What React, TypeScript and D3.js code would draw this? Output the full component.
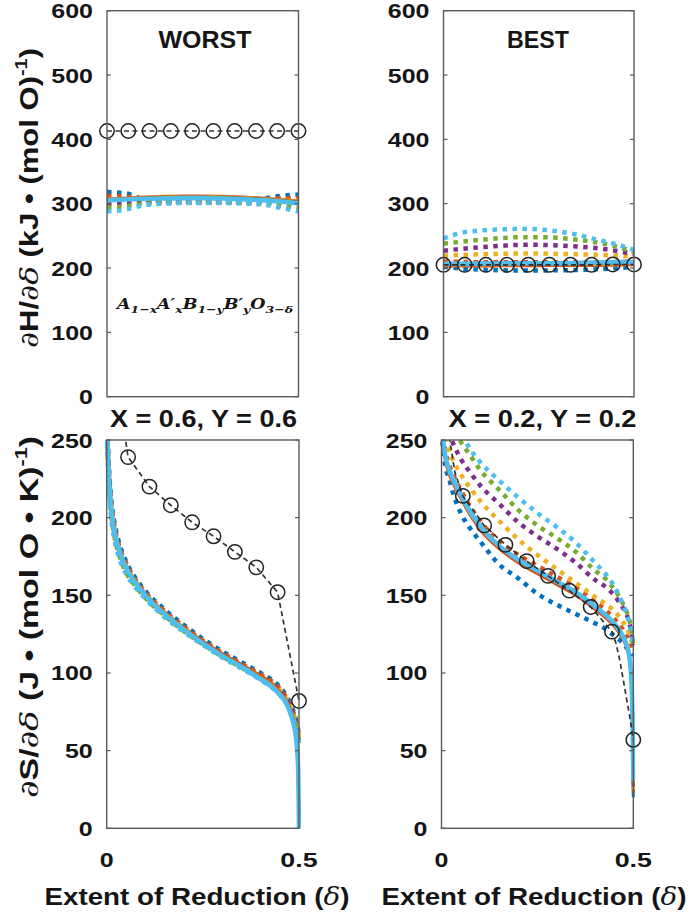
import React from 'react';
import * as d3 from 'd3';

// MATLAB default colour order
const COLORS = ['#0072BD', '#D95319', '#EDB120', '#7E2F8E', '#77AC30', '#4DBEEE'];

// x grids (extent of reduction, delta)
const DELTA_H = [0, 0.05, 0.1, 0.15, 0.2, 0.25, 0.3, 0.35, 0.4, 0.45, 0.5];
const DELTA_S = [0.001, 0.002, 0.005, 0.01, 0.02, 0.03, 0.05, 0.075, 0.1, 0.15, 0.2, 0.25, 0.3, 0.35, 0.4, 0.43, 0.45, 0.47, 0.48, 0.49, 0.495, 0.498, 0.5];
const MARK_DELTA_H = [0, 0.0556, 0.1111, 0.1667, 0.2222, 0.2778, 0.3333, 0.3889, 0.4444, 0.5];
const MARK_DELTA_S = [0.0556, 0.1111, 0.1667, 0.2222, 0.2778, 0.3333, 0.3889, 0.4444, 0.5];

const H_TICKS = [0, 100, 200, 300, 400, 500, 600];
const S_TICKS = [0, 50, 100, 150, 200, 250];
const X_TICKS = [0, 0.5];

// ---- WORST, enthalpy ----
const worstHDotted = [
  [318, 316, 306, 304, 303, 303, 303, 304, 307, 312, 314],
  [312, 311, 304.5, 303, 302.5, 302.5, 302.5, 303, 305, 308.5, 309],
  [306, 305.5, 303, 302.5, 302, 302, 302, 302.5, 303.5, 305, 304],
  [300, 300.5, 301.5, 302, 302, 302, 302, 302, 302, 301, 299],
  [294, 296, 300, 301, 301.5, 301.5, 301.5, 301, 300.5, 297.5, 294],
  [288, 291, 298, 300, 301, 301, 301, 300.5, 299, 294, 288],
];
const worstHSolid = [
  [306, 307.5, 309, 310, 310.5, 310.5, 310, 309, 307.5, 305.5, 303],
  [307, 309, 310.5, 311.5, 312, 312, 311.5, 310.5, 309, 307, 304],
  [306.5, 308, 309.5, 310.5, 311, 311, 310.5, 309.5, 308, 306, 303],
  [306, 307.5, 309, 310, 310.5, 310.5, 310, 309, 307.5, 305.5, 302.5],
  [305.5, 307, 308.5, 309.5, 310, 310, 309.5, 308.5, 307, 305, 302],
  [305, 306.5, 307.5, 308, 308.5, 308.5, 308, 307, 305.5, 303.5, 300.5],
];
const worstHMarks = [413, 413, 413, 413, 413, 413, 413, 413, 413, 413];

// ---- BEST, enthalpy ----
const bestHDotted = [
  [202, 199, 197.5, 196.5, 196, 196, 196.5, 197, 198, 199.5, 202],
  [210, 209.5, 209, 209, 209, 209, 209, 209, 209, 209.5, 210],
  [219, 220.5, 221.5, 222, 222.5, 222.5, 222, 221.5, 220.5, 219.5, 218],
  [227, 230, 232.5, 234.5, 236, 236, 235, 233.5, 231, 227, 222],
  [238, 241, 244, 246.5, 248, 248, 247, 244, 240, 234, 225],
  [246, 255, 258.5, 260, 261, 260, 257, 252, 244.5, 237.5, 228],
];
const bestHSolid = [
  [204, 204, 204.5, 204.5, 205, 205, 205, 205.5, 205.5, 206, 206.5],
  [203, 203, 203, 203.5, 203.5, 203.5, 204, 204, 204, 204.5, 205],
  [204.5, 204.5, 205, 205, 205.5, 205.5, 205.5, 206, 206, 206.5, 207],
  [205, 205, 205.5, 205.5, 206, 206, 206, 206.5, 207, 207.5, 208],
  [205.5, 205.5, 206, 206, 206.5, 206.5, 206.5, 207, 207.5, 208, 208.5],
  [206.5, 206.5, 207, 207, 207.5, 207.5, 207.5, 208, 208.5, 209, 209.5],
];
const bestHMarks = [205, 205, 205, 205, 205, 205, 205, 205, 205.5, 205.5];

// ---- WORST, entropy ----
const worstSDotted = [
  [270, 257, 237, 217, 197, 186, 172, 161, 153, 141, 131, 122, 114, 107, 100, 95.5, 91, 84, 79, 72, 67, 63, 60],
  [268, 255, 235, 215, 195, 184, 171, 160, 152, 140, 130, 121, 113, 106, 99, 94.5, 90, 83, 78, 71, 66, 62, 59],
  [265, 252, 232, 212, 193, 182, 169, 159, 151, 139, 129, 120, 112, 105, 98, 93, 89, 82, 77, 70, 65, 61, 58],
  [262, 249, 229, 209, 190, 180, 167, 157, 149.5, 138, 128, 119, 111, 104, 97, 92, 88, 81, 76, 69, 64, 60, 57],
  [259, 246, 226, 206, 188, 178, 165, 156, 148.5, 137, 127, 118.5, 110.5, 103.5, 96, 91, 87, 80, 75, 68, 63, 59, 56],
  [255, 243, 223, 204, 186, 176, 164, 155, 148, 136, 126.5, 118, 110, 103, 95.5, 90.5, 86, 79, 74, 67, 62, 58, 55],
];
const worstSSolid = [
  [262.5, 250.5, 230.5, 210.5, 191.5, 181.5, 168.5, 158.5, 150.5, 138.5, 128.5, 120, 112, 105, 97.5, 92.5, 87.5, 80.5, 73.5, 63.5, 52.5, 37.5, 0],
  [263, 251, 231, 211, 192, 182, 169, 159, 151, 139, 129, 120.5, 112.5, 105.5, 98, 93, 88, 81, 74, 64, 53, 38, 0],
  [262.5, 250.5, 230.5, 210.5, 191.5, 181.5, 168.5, 158.5, 150.5, 138.5, 128.5, 119.5, 111.5, 104.5, 97, 92, 87, 80, 73, 63, 52, 37, 0],
  [262, 250, 230, 210, 191, 181, 168, 158, 150, 138, 128, 119.5, 111.5, 104.5, 96.5, 91.5, 86.5, 79.5, 72.5, 62.5, 51.5, 36.5, 0],
  [262, 250, 230, 210, 191, 181, 168, 158, 150, 138, 128, 119, 111, 104, 96, 91, 86, 79, 72, 62, 51, 36, 0],
  [262, 250, 230, 210, 191, 181, 168, 158, 150, 138, 128, 119, 111, 104, 96, 91, 86, 79, 72, 62, 51, 36, 0],
];
const worstSMarks = [239, 220, 208, 197, 188, 178, 168, 152, 82];
const worstSDashX = [0.04, 0.0556, 0.1111, 0.1667, 0.2222, 0.2778, 0.3333, 0.3889, 0.4444, 0.5];
const worstSDashY = [265, 239, 220, 208, 197, 188, 178, 168, 152, 82];

// ---- BEST, entropy ----
const bestSDotted = [
  [262, 252, 242, 233, 225, 216, 203, 193, 185, 170, 161, 151, 144, 138, 132, 128, 124, 120, 117, 114, 113, 112, 112],
  [278, 265, 252, 243, 234, 228, 218, 207, 198, 185, 176, 169, 162, 155, 146, 140, 135, 129, 125, 121, 118, 116, 115],
  [290, 275, 262, 252, 243, 237, 228, 219, 211, 198, 186, 176, 167, 158, 149, 144, 140, 134, 130, 125, 121, 118, 116],
  [300, 287, 272, 263, 254, 248, 238, 229, 221, 209, 197, 188, 180, 171, 160, 155, 150, 143, 139, 132, 126, 121, 118],
  [312, 298, 283, 272, 263, 258, 249, 240, 231, 218, 205, 195, 187, 178, 166, 160, 154, 146, 141, 134, 128, 122, 119],
  [322, 308, 292, 281, 271, 265, 255, 244, 236, 224, 213, 203, 194, 184, 171, 163, 156, 146, 140, 131, 125, 120, 117],
];
const bestSSolid = [
  [273, 260, 247, 238, 229, 223, 213.5, 202.5, 193.5, 181, 172, 165, 158, 151, 142, 136, 131, 124, 119, 109, 94, 67, 20],
  [272, 259, 246, 237, 228, 222, 212.5, 201.5, 192.5, 180, 171, 164, 157, 150, 141, 135, 130, 123, 118, 108, 93, 66, 23],
  [273.5, 260.5, 247.5, 238.5, 229.5, 223.5, 214, 203, 194, 181.5, 172.5, 165.5, 158.5, 151.5, 142.5, 136.5, 131.5, 124.5, 119.5, 109.5, 94.5, 68, 25],
  [274, 261, 248, 239, 230, 224, 214.5, 203.5, 194.5, 181.5, 172.5, 165.5, 158.5, 151.5, 142.5, 136.5, 131.5, 124.5, 119.5, 109.5, 94.5, 69, 27],
  [274.5, 261.5, 248.5, 239.5, 230.5, 224.5, 214.5, 203.5, 194.5, 182, 173, 166, 159, 152, 143, 137, 132, 125, 120, 110, 95, 69.5, 29],
  [275, 262, 249, 240, 231, 225, 215, 204, 195, 182, 173, 166, 159, 152, 143, 137, 132, 125, 120, 110, 95, 70, 31],
];
const bestSMarks = [214, 195, 182.5, 172, 162.5, 153, 142.5, 126.6, 57];
const bestSDashX = [0.02, 0.035, 0.0556, 0.1111, 0.1667, 0.2222, 0.2778, 0.3333, 0.3889, 0.4444, 0.455, 0.465, 0.475, 0.485, 0.492, 0.5];
const bestSDashY = [252, 229, 214, 195, 182.5, 172, 162.5, 153, 142.5, 126.6, 119, 108, 94, 80, 70, 57];

const FONT = "'Liberation Sans', Arial, Helvetica, sans-serif";
const SERIF = "'DejaVu Serif', 'Liberation Serif', serif";
const INK = '#151515';
const FRAME = '#5a5a5a';

const tickWidth = (s: string) => s.split('').reduce((w, c) => w + (c === '.' ? 9.5 : 13.9), 0);

type Box = { x0: number; x1: number; y0: number; y1: number };

function Panel(props: {
  id: string; box: Box; yMax: number; yTicks: number[]; lineX: number[];
  dotted: number[][]; solid: number[][]; dashX: number[]; dashY: number[];
  markX: number[]; markY: number[];
}) {
  const { id, box, yMax, yTicks, lineX, dotted, solid, dashX, dashY, markX, markY } = props;
  const xs = d3.scaleLinear().domain([0, 0.5]).range([box.x0, box.x1]);
  const ys = d3.scaleLinear().domain([0, yMax]).range([box.y1, box.y0]);
  const curve = d3.line<number>().x((_, i) => xs(lineX[i])).y((d) => ys(d)).curve(d3.curveMonotoneX);
  const dash = d3.line<number>().x((_, i) => xs(dashX[i])).y((d) => ys(d));
  return (
    <g>
      <defs>
        <clipPath id={id}>
          <rect x={box.x0 - 2} y={box.y0} width={box.x1 - box.x0 + 4} height={box.y1 - box.y0} />
        </clipPath>
      </defs>
      <g clipPath={`url(#${id})`}>
        {dotted.map((vals, k) => (
          <path key={'d' + k} d={curve(vals) || ''} fill="none" stroke={COLORS[k]} strokeWidth={4.5} strokeDasharray="4.5 5.5" />
        ))}
        {solid.map((vals, k) => (
          <path key={'s' + k} d={curve(vals) || ''} fill="none" stroke={COLORS[k]} strokeWidth={k === 5 ? 4.5 : 3} />
        ))}
        <path d={dash(dashY) || ''} fill="none" stroke="#333" strokeWidth={1.7} strokeDasharray="5 3.5" />
      </g>
      {markX.map((mx, i) => (
        <circle key={'m' + i} cx={xs(mx)} cy={ys(markY[i])} r={7.2} fill="none" stroke="#222" strokeWidth={1.5} />
      ))}
      <rect x={box.x0} y={box.y0} width={box.x1 - box.x0} height={box.y1 - box.y0} fill="none" stroke={FRAME} strokeWidth={1.4} />
      {yTicks.map((t) => (
        <g key={'t' + t}>
          <line x1={box.x0} x2={box.x0 + 4} y1={ys(t)} y2={ys(t)} stroke={FRAME} strokeWidth={1.2} />
          <line x1={box.x1 - 4} x2={box.x1} y1={ys(t)} y2={ys(t)} stroke={FRAME} strokeWidth={1.2} />
          <text x={box.x0 - 14} y={ys(t) + 7.5} textAnchor="end" fontFamily={FONT} fontWeight="bold" fontSize={21} fill={INK}
            textLength={tickWidth(String(t))} lengthAdjust="spacingAndGlyphs">{t}</text>
        </g>
      ))}
    </g>
  );
}

function XTicks({ box }: { box: Box }) {
  const xs = d3.scaleLinear().domain([0, 0.5]).range([box.x0, box.x1]);
  return (
    <g>
      {X_TICKS.map((t) => (
        <text key={t} x={xs(t)} y={867} textAnchor="middle" fontFamily={FONT} fontWeight="bold" fontSize={21} fill={INK}
          textLength={tickWidth(String(t))} lengthAdjust="spacingAndGlyphs">{String(t)}</text>
      ))}
    </g>
  );
}

const TL: Box = { x0: 107, x1: 298.5, y0: 10.7, y1: 396.7 };
const TR: Box = { x0: 443.5, x1: 634, y0: 10.7, y1: 396.7 };
const BL: Box = { x0: 106.7, x1: 299, y0: 440, y1: 828.3 };
const BR: Box = { x0: 441.5, x1: 633.3, y0: 440, y1: 828.3 };

const it = { fontFamily: SERIF, fontStyle: 'italic' as const, fontWeight: 'normal' as const };

export default function App() {
  return (
    <svg width={699} height={916} style={{ position: 'absolute', left: 0, top: 0, background: '#fff' }}>
      <rect x={0} y={0} width={699} height={916} fill="#fff" />
      <Panel id="c1" box={TL} yMax={600} yTicks={H_TICKS} lineX={DELTA_H} dotted={worstHDotted} solid={worstHSolid}
        dashX={MARK_DELTA_H} dashY={worstHMarks} markX={MARK_DELTA_H} markY={worstHMarks} />
      <Panel id="c2" box={TR} yMax={600} yTicks={H_TICKS} lineX={DELTA_H} dotted={bestHDotted} solid={bestHSolid}
        dashX={MARK_DELTA_H} dashY={bestHMarks} markX={MARK_DELTA_H} markY={bestHMarks} />
      <Panel id="c3" box={BL} yMax={250} yTicks={S_TICKS} lineX={DELTA_S} dotted={worstSDotted} solid={worstSSolid}
        dashX={worstSDashX} dashY={worstSDashY} markX={MARK_DELTA_S} markY={worstSMarks} />
      <Panel id="c4" box={BR} yMax={250} yTicks={S_TICKS} lineX={DELTA_S} dotted={bestSDotted} solid={bestSSolid}
        dashX={bestSDashX} dashY={bestSDashY} markX={MARK_DELTA_S} markY={bestSMarks} />
      <XTicks box={BL} />
      <XTicks box={BR} />

      {/* titles */}
      <text x={205} y={48} textAnchor="middle" fontFamily={FONT} fontWeight="bold" fontSize={23} fill={INK} textLength={93} lengthAdjust="spacingAndGlyphs">WORST</text>
      <text x={538} y={48} textAnchor="middle" fontFamily={FONT} fontWeight="bold" fontSize={23} fill={INK} textLength={62} lengthAdjust="spacingAndGlyphs">BEST</text>
      <text x={203.5} y={427} textAnchor="middle" fontFamily={FONT} fontWeight="bold" fontSize={23} fill={INK} textLength={187} lengthAdjust="spacingAndGlyphs">X = 0.6, Y = 0.6</text>
      <text x={542.5} y={427} textAnchor="middle" fontFamily={FONT} fontWeight="bold" fontSize={23} fill={INK} textLength={188} lengthAdjust="spacingAndGlyphs">X = 0.2, Y = 0.2</text>

      {/* formula */}
      <text x={205} y={308.5} textAnchor="middle" fontFamily={SERIF} fontStyle="italic" fontWeight="bold" fontSize={14} fill={INK} textLength={176} lengthAdjust="spacingAndGlyphs">
        A<tspan fontSize={10} dy={4}>1−x</tspan><tspan dy={-4}>A′</tspan><tspan fontSize={10} dy={4}>x</tspan><tspan dy={-4}>B</tspan><tspan fontSize={10} dy={4}>1−y</tspan><tspan dy={-4}>B′</tspan><tspan fontSize={10} dy={4}>y</tspan><tspan dy={-4}>O</tspan><tspan fontSize={10} dy={4}>3−δ</tspan>
      </text>

      {/* y labels */}
      <text transform="translate(38,198) rotate(-90)" textAnchor="middle" fontFamily={FONT} fontWeight="bold" fontSize={25} fill={INK} textLength={300} lengthAdjust="spacingAndGlyphs">
        <tspan {...it}>∂</tspan>H/<tspan {...it}>∂δ</tspan>{' (kJ • (mol O)'}<tspan fontSize={16} dy={-11}>-1</tspan><tspan dy={11}>)</tspan>
      </text>
      <text transform="translate(38,617) rotate(-90)" textAnchor="middle" fontFamily={FONT} fontWeight="bold" fontSize={25} fill={INK} textLength={362} lengthAdjust="spacingAndGlyphs">
        <tspan {...it}>∂</tspan>S/<tspan {...it}>∂δ</tspan>{' (J • (mol O • K)'}<tspan fontSize={16} dy={-11}>-1</tspan><tspan dy={11}>)</tspan>
      </text>

      {/* x labels */}
      <text x={197} y={905} textAnchor="middle" fontFamily={FONT} fontWeight="bold" fontSize={24} fill={INK} textLength={305} lengthAdjust="spacingAndGlyphs">
        {'Extent of Reduction ('}<tspan {...it}>δ</tspan>)
      </text>
      <text x={534} y={905} textAnchor="middle" fontFamily={FONT} fontWeight="bold" fontSize={24} fill={INK} textLength={305} lengthAdjust="spacingAndGlyphs">
        {'Extent of Reduction ('}<tspan {...it}>δ</tspan>)
      </text>
    </svg>
  );
}
